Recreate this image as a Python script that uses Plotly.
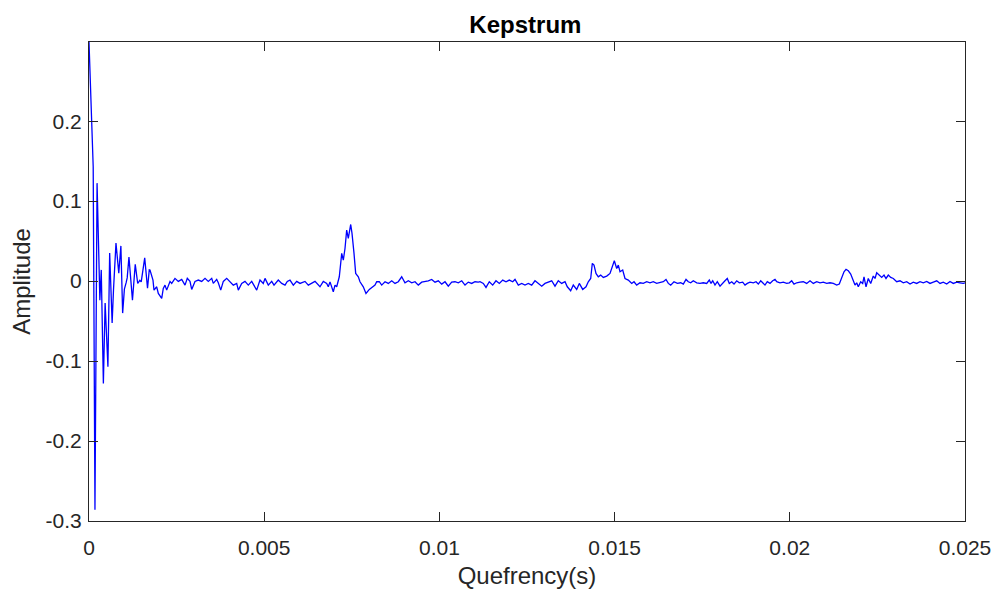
import plotly.graph_objects as go

# Quefrency in milliseconds, converted to seconds below
quefrency_ms = [
    0.0, 0.06, 0.10, 0.12, 0.17, 0.23, 0.27, 0.31, 0.35, 0.41, 0.46, 0.54, 0.59, 0.66, 0.70,
    0.77, 0.85, 0.91, 0.96, 1.01, 1.06, 1.09, 1.14, 1.24, 1.32, 1.39, 1.45, 1.49, 1.59, 1.67, 1.72,
    1.741, 1.826, 1.855, 1.932, 1.978, 2.075, 2.120, 2.169, 2.217, 2.312, 2.360, 2.454, 2.549,
    2.646, 2.740, 2.805, 2.882, 2.931, 3.025, 3.119, 3.216, 3.311, 3.405, 3.502, 3.547, 3.644,
    3.690, 3.759, 3.833, 3.930, 4.024, 4.118, 4.215, 4.261, 4.358, 4.452, 4.546, 4.643, 4.786,
    4.880, 4.974, 5.023, 5.117, 5.214, 5.280, 5.402, 5.500, 5.594, 5.659, 5.736, 5.831, 5.928,
    6.022, 6.164, 6.259, 6.356, 6.450, 6.592, 6.687, 6.784, 6.829,
    6.878, 6.972, 7.021, 7.069, 7.143, 7.212, 7.258, 7.306, 7.354, 7.400, 7.469, 7.506, 7.563,
    7.611, 7.686, 7.734, 7.828, 7.905, 8.000, 8.068, 8.162, 8.211, 8.285, 8.353, 8.448, 8.542,
    8.639, 8.733, 8.827, 8.924, 9.018, 9.113, 9.210, 9.304, 9.398, 9.495, 9.589, 9.683, 9.780,
    9.875, 9.969, 10.066, 10.160, 10.254, 10.351, 10.445, 10.540, 10.637, 10.731, 10.825,
    10.922, 11.016, 11.110,
    11.159, 11.253, 11.330, 11.424, 11.521, 11.615, 11.710, 11.807, 11.901, 11.995, 12.092,
    12.158, 12.252, 12.349, 12.443, 12.537, 12.634, 12.728, 12.823, 12.920, 13.014, 13.108,
    13.205, 13.299, 13.393, 13.490, 13.585, 13.650, 13.747, 13.821, 13.918, 13.993, 14.090,
    14.184, 14.249, 14.318, 14.364, 14.412, 14.469, 14.535, 14.603, 14.678, 14.775, 14.869,
    14.946, 14.992, 15.060, 15.106, 15.154, 15.231, 15.297, 15.391, 15.488, 15.554, 15.631,
    15.725, 15.819, 15.916,
    16.010, 16.104, 16.201, 16.296, 16.390, 16.467, 16.533, 16.601, 16.695, 16.790, 16.887,
    16.961, 17.038, 17.104, 17.172, 17.246, 17.343, 17.437, 17.531, 17.628, 17.703, 17.751,
    17.800, 17.865, 17.931, 18.008, 18.085, 18.151, 18.216, 18.273, 18.342, 18.408, 18.485,
    18.559, 18.656, 18.722, 18.787, 18.864, 18.958, 19.036, 19.101, 19.170, 19.227, 19.292,
    19.358, 19.435, 19.512, 19.578, 19.626, 19.720, 19.815, 19.911, 19.986, 20.054, 20.120,
    20.197,
    20.291, 20.385, 20.482, 20.577, 20.671, 20.768, 20.862, 20.956, 21.053, 21.147, 21.242,
    21.339, 21.413, 21.481, 21.547, 21.604, 21.670, 21.738, 21.795, 21.861, 21.909, 21.955,
    22.023, 22.080, 22.118, 22.175, 22.240, 22.309, 22.383, 22.432, 22.480, 22.554, 22.623,
    22.689, 22.746, 22.811, 22.880, 22.954, 23.051, 23.145, 23.239, 23.336, 23.431, 23.525,
    23.622, 23.716, 23.810, 23.907, 24.001, 24.096, 24.193, 24.287, 24.381, 24.478, 24.572,
    24.666, 24.763, 24.857, 24.951, 25.000,
]

amplitude = [
    0.299, 0.21, 0.168, 0.143, -0.286, 0.1225, 0.05, -0.024, 0.014, -0.128, -0.0275, -0.107,
    0.035, -0.0525, -0.01, 0.0475, 0.01, 0.044, -0.04, -0.01, -0.002, 0.004, 0.03, -0.024,
    0.021, -0.003, 0.001, -0.001, 0.029, -0.009, 0.014,
    0.0138, 0.0013, -0.0113, -0.0071, -0.0154, -0.0217, -0.0092, -0.0050, -0.0113, -0.0004,
    -0.0029, 0.0034, -0.0004, 0.0021, -0.0050, 0.0034, -0.0004, -0.0104, -0.0004, 0.0013,
    -0.0004, 0.0034, -0.0004, 0.0034, -0.0029, 0.0021, -0.0021, -0.0113, -0.0004, 0.0034,
    -0.0004, -0.0050, -0.0029, -0.0113, -0.0029, -0.0004, -0.0050, -0.0004, -0.0113, 0.0013,
    -0.0029, 0.0034, -0.0050, -0.0004, -0.0050, 0.0013, -0.0029, -0.0050, -0.0004, 0.0013,
    -0.0050, -0.0004, -0.0029, -0.0004, -0.0050, -0.0029, -0.0004, -0.0071, -0.0004, -0.0029,
    -0.0071,
    -0.0010, -0.0133, -0.0050, -0.0071, 0.0054, 0.0346, 0.0263, 0.0408, 0.0638, 0.0533,
    0.0708, 0.0596, 0.0346, 0.0096, 0.0054, -0.0008, -0.0071, -0.0154, -0.0104, -0.0079,
    -0.0050, -0.0008, -0.0008, -0.0050, -0.0008, -0.0029, 0.0004, -0.0029, -0.0008, 0.0054,
    -0.0021, 0.0004, -0.0021, -0.0008, -0.0050, -0.0013, -0.0008, 0.0004, 0.0021, -0.0013,
    0.0004, -0.0038, -0.0008, -0.0063, -0.0013, -0.0008, -0.0021, 0.0004, -0.0050, -0.0013,
    -0.0029, -0.0008, -0.0013,
    -0.0008, -0.0029, -0.0079, -0.0008, -0.0050, 0.0004, -0.0029, 0.0013, -0.0008, 0.0013,
    -0.0008, 0.0021, -0.0050, -0.0029, -0.0050, -0.0029, -0.0050, 0.0004, -0.0029, -0.0063,
    -0.0029, -0.0008, 0.0004, -0.0063, 0.0004, -0.0029, -0.0008, -0.0071, -0.0121, -0.0050,
    -0.0104, -0.0029, -0.0104, -0.0071, -0.0008, 0.0033, 0.0221, 0.0200, 0.0096, 0.0054,
    0.0075, 0.0046, 0.0063, 0.0096, 0.0200, 0.0254, 0.0158, 0.0200, 0.0117, 0.0138, 0.0033,
    0.0013, -0.0029, -0.0008, -0.0050, -0.0021, -0.0029, -0.0008,
    -0.0021, -0.0008, -0.0029, -0.0021, -0.0008, 0.0021, -0.0029, -0.0050, -0.0008, -0.0029,
    -0.0021, -0.0037, 0.0021, -0.0008, -0.0021, 0.0004, -0.0021, -0.0029, -0.0021, -0.0029,
    0.0013, -0.0029, 0.0004, -0.0050, -0.0008, -0.0063, -0.0021, 0.0004, 0.0033, -0.0029,
    -0.0008, -0.0037, 0.0004, -0.0021, -0.0013, -0.0050, -0.0029, -0.0013, -0.0021, -0.0008,
    -0.0037, 0.0004, -0.0021, -0.0050, -0.0008, -0.0029, 0.0004, 0.0021, -0.0008, -0.0021,
    -0.0013, -0.0029, -0.0021, 0.0004, -0.0037, -0.0021,
    -0.0013, -0.0008, -0.0029, 0.0004, -0.0029, -0.0008, -0.0021, -0.0013, -0.0029, -0.0021,
    -0.0029, -0.0050, -0.0037, 0.0033, 0.0117, 0.0146, 0.0129, 0.0088, 0.0013, -0.0050,
    -0.0021, -0.0071, -0.0008, -0.0029, 0.0054, -0.0071, 0.0033, -0.0029, 0.0063, 0.0033,
    0.0104, 0.0075, 0.0046, 0.0075, 0.0033, 0.0075, 0.0046, 0.0033, -0.0008, 0.0004, -0.0021,
    -0.0008, -0.0037, -0.0013, -0.0029, -0.0008, -0.0021, -0.0004, -0.0029, -0.0013, 0.0004,
    -0.0029, -0.0013, -0.0037, -0.0004, -0.0029, -0.0013, -0.0021, -0.0029, -0.0021,
]

x_ticks = [0, 0.005, 0.01, 0.015, 0.02, 0.025]
x_tick_labels = ["0", "0.005", "0.01", "0.015", "0.02", "0.025"]
y_ticks = [-0.3, -0.2, -0.1, 0, 0.1, 0.2]
y_tick_labels = ["-0.3", "-0.2", "-0.1", "0", "0.1", "0.2"]

quefrency = [q / 1000.0 for q in quefrency_ms]

fig = go.Figure()
fig.add_trace(go.Scatter(
    x=quefrency, y=amplitude, mode="lines",
    line=dict(color="#0000ff", width=1.3),
    showlegend=False, hoverinfo="skip",
))

axis_color = "#262626"
font_family = "Liberation Sans, Arial, sans-serif"

fig.update_layout(
    width=996, height=591,
    margin=dict(l=89, r=31, t=42, b=70, autoexpand=False),
    paper_bgcolor="white", plot_bgcolor="white",
    font=dict(family=font_family, size=21, color=axis_color),
    title=dict(text="<b>Kepstrum</b>", x=0.5275, xanchor="center",
               y=1 - 25 / 591, yanchor="middle", yref="container",
               font=dict(size=24, color="black", family=font_family)),
    hovermode=False,
)

fig.update_xaxes(
    range=[0, 0.025], tickvals=x_ticks, ticktext=x_tick_labels,
    showgrid=False, zeroline=False, showline=True, linecolor=axis_color, linewidth=1,
    mirror="ticks", ticks="inside", ticklen=9, tickcolor=axis_color, tickwidth=1,
    tickfont=dict(size=21, color=axis_color), ticklabelstandoff=8, automargin=False,
    title=dict(text="Quefrency(s)", font=dict(size=24, color=axis_color), standoff=8),
)
fig.update_yaxes(
    range=[-0.3, 0.299], tickvals=y_ticks, ticktext=y_tick_labels,
    showgrid=False, zeroline=False, showline=True, linecolor=axis_color, linewidth=1,
    mirror="ticks", ticks="inside", ticklen=9, tickcolor=axis_color, tickwidth=1,
    tickfont=dict(size=21, color=axis_color), ticklabelstandoff=2, automargin=False,
    title=dict(text="Amplitude", font=dict(size=24, color=axis_color), standoff=8),
)

fig.write_html("out.html", config={"displayModeBar": False},
               post_script="document.body.style.margin='0';")
